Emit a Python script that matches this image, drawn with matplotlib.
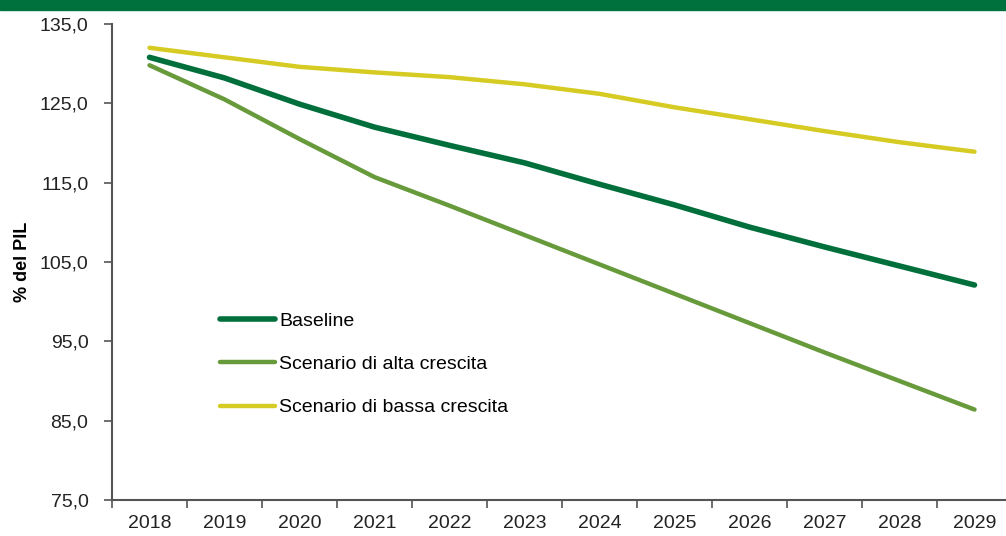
import matplotlib
matplotlib.use('Agg')
import matplotlib.pyplot as plt
from matplotlib.patches import Rectangle
from matplotlib.ticker import FixedLocator, FuncFormatter

anni = ['2018', '2019', '2020', '2021', '2022', '2023', '2024', '2025', '2026', '2027', '2028', '2029']
baseline = [130.8, 128.2, 124.9, 122.0, 119.7, 117.5, 114.8, 112.2, 109.4, 106.9, 104.5, 102.1]
alta_crescita = [129.8, 125.5, 120.5, 115.7, 112.1, 108.4, 104.7, 101.0, 97.3, 93.6, 90.0, 86.4]
bassa_crescita = [132.0, 130.8, 129.6, 128.9, 128.3, 127.4, 126.2, 124.5, 123.0, 121.5, 120.1, 118.9]

plt.rcParams['font.family'] = ['Liberation Sans', 'DejaVu Sans']

fig = plt.figure(figsize=(10.06, 5.36), dpi=100)
# banda verde in alto
fig.patches.append(Rectangle((0, 1 - 10 / 536), 1, 10 / 536, transform=fig.transFigure,
                             color='#00703C', zorder=0))

ax = fig.add_axes([112 / 1006, 1 - 500 / 536, 900 / 1006, 476 / 536])
x = list(range(len(anni)))
ax.plot(x, baseline, color='#006F3B', lw=4.0, solid_capstyle='round', label='Baseline')
ax.plot(x, alta_crescita, color='#679A3B', lw=3.2, solid_capstyle='round', label='Scenario di alta crescita')
ax.plot(x, bassa_crescita, color='#D6CB22', lw=3.2, solid_capstyle='round', label='Scenario di bassa crescita')

ax.set_xlim(-0.5, len(anni) - 0.5)
ax.set_ylim(75, 135)
ax.set_yticks([75, 85, 95, 105, 115, 125, 135])
ax.yaxis.set_major_formatter(FuncFormatter(lambda v, p: f'{v:.1f}'.replace('.', ',')))
ax.set_xticks(x)
ax.set_xticklabels(anni)
ax.xaxis.set_minor_locator(FixedLocator([i - 0.5 for i in range(len(anni) + 1)]))
ax.tick_params(axis='x', which='major', length=0, labelsize=14, pad=11, colors='#222222')
ax.tick_params(axis='x', which='minor', length=6, color='#555555', width=1.2)
ax.tick_params(axis='y', length=6, color='#555555', width=1.2, labelsize=14, pad=11, colors='#222222')
for s in ['top', 'right']:
    ax.spines[s].set_visible(False)
for s in ['left', 'bottom']:
    ax.spines[s].set_color('#555555')
    ax.spines[s].set_linewidth(1.5)

ax.set_ylabel('% del PIL', fontsize=13, fontweight='bold', labelpad=6)

ax.legend(loc='center left', bbox_to_anchor=(0.12, 0.285), frameon=False, fontsize=14,
          handlelength=2.85, handletextpad=0.2, labelspacing=1.32,
          borderaxespad=0, borderpad=0)

plt.savefig('out.png', dpi=100)
